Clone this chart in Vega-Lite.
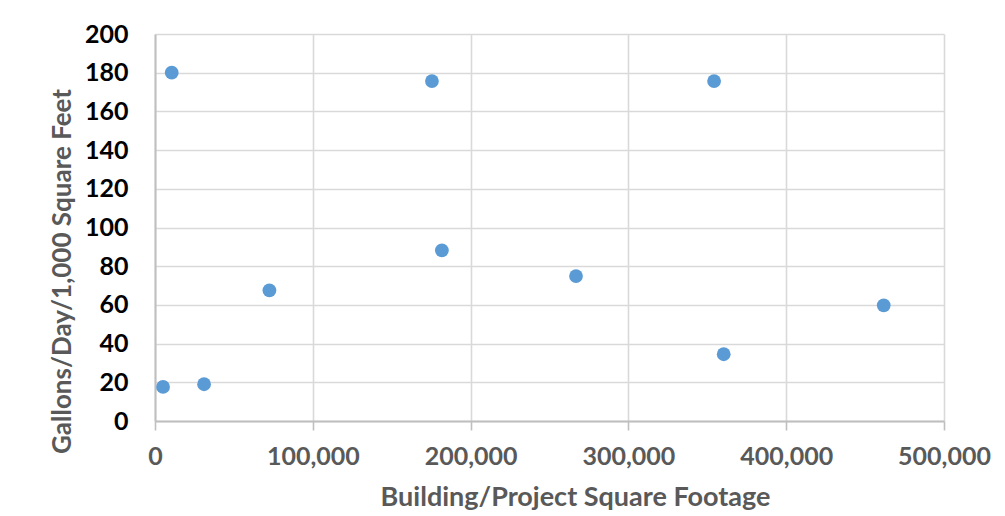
{
  "$schema": "https://vega.github.io/schema/vega-lite/v6.json",
  "width": 789,
  "height": 387,
  "autosize": {"type": "none"},
  "padding": {"left": 155, "top": 34, "right": 61, "bottom": 95},
  "background": "white",
  "config": {
    "view": {"stroke": null},
    "font": "Lato"
  },
  "data": {
    "values": [
      {"sqft": 5100, "gpd": 17.6},
      {"sqft": 10600, "gpd": 180.0},
      {"sqft": 31100, "gpd": 19.0},
      {"sqft": 72500, "gpd": 67.5},
      {"sqft": 175500, "gpd": 175.7},
      {"sqft": 181800, "gpd": 88.2},
      {"sqft": 266800, "gpd": 74.9},
      {"sqft": 354300, "gpd": 175.7},
      {"sqft": 360400, "gpd": 34.5},
      {"sqft": 461800, "gpd": 59.8}
    ]
  },
  "mark": {"type": "point", "filled": true, "opacity": 1, "size": 190, "color": "#5B9BD5", "shape": "circle"},
  "encoding": {
    "x": {
      "field": "sqft",
      "type": "quantitative",
      "scale": {"domain": [0, 500000], "nice": false, "zero": true},
      "axis": {
        "title": "Building/Project Square Footage",
        "values": [0, 100000, 200000, 300000, 400000, 500000],
        "format": ",d",
        "grid": true,
        "gridColor": "#d9d9d9",
        "gridWidth": 1.6,
        "domainColor": "#bfbfbf",
        "domainWidth": 2,
        "tickColor": "#bfbfbf",
        "tickWidth": 1.6,
        "tickSize": 9,
        "labelFont": "Lato",
        "labelFontSize": 25,
        "labelFontWeight": "bold",
        "labelColor": "#595959",
        "labelPadding": 14,
        "labelFlush": false,
        "labelOverlap": false,
        "titleFont": "Lato",
        "titleFontSize": 27,
        "titleFontWeight": "bold",
        "titleColor": "#595959",
        "titleX": 420,
        "titleY": 84,
        "titleBaseline": "alphabetic"
      }
    },
    "y": {
      "field": "gpd",
      "type": "quantitative",
      "scale": {"domain": [0, 200], "nice": false},
      "axis": {
        "title": "Gallons/Day/1,000 Square Feet",
        "values": [0, 20, 40, 60, 80, 100, 120, 140, 160, 180, 200],
        "grid": true,
        "gridColor": "#d9d9d9",
        "gridWidth": 1.6,
        "domainColor": "#bfbfbf",
        "domainWidth": 2,
        "ticks": false,
        "labelFont": "Lato",
        "labelFontSize": 25,
        "labelFontWeight": "bold",
        "labelColor": "#000000",
        "labelPadding": 27,
        "labelFlush": false,
        "labelOverlap": false,
        "titleFont": "Lato",
        "titleFontSize": 26,
        "titleFontWeight": "bold",
        "titleColor": "#595959",
        "titleX": -93,
        "titleY": 237,
        "titleBaseline": "middle",
        "titleAngle": -90
      }
    }
  }
}
